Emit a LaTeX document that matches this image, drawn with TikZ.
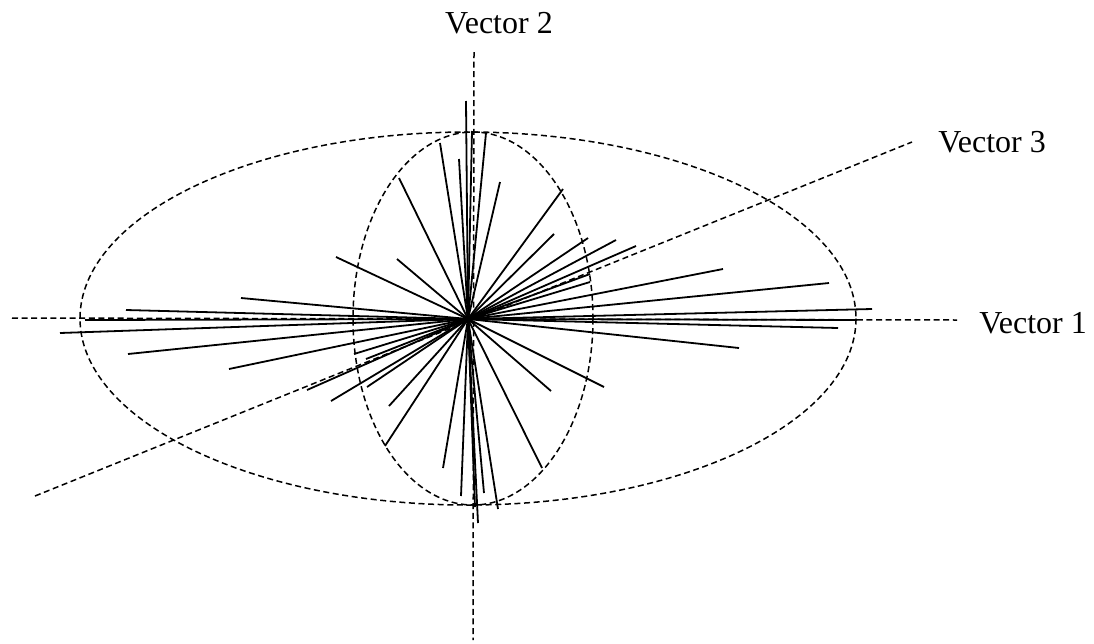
\documentclass[tikz,border=0pt]{standalone}
\usepackage{fontspec}
\setmainfont{Liberation Serif}
\begin{document}
\begin{tikzpicture}[x=1pt,y=-1pt,
  axisline/.style={line width=1.5pt, dash pattern=on 6pt off 3.6pt},
  ray/.style={line width=1.8pt, line cap=butt},
  label/.style={font=\fontsize{32}{36}\selectfont, anchor=base, inner sep=0pt}]
\useasboundingbox (0,0) rectangle (1094,643);
\coordinate (O) at (468,319);
% labels
\node[label] (v1) at (1033,333) {Vector 1};
\node[label] (v2) at (499,33) {Vector 2};
\node[label] (v3) at (992,152) {Vector 3};
% axes
\coordinate (a1s) at (12,318);  \coordinate (a1e) at (957,320);
\coordinate (a2s) at (474,52);  \coordinate (a2e) at (473,640);
\coordinate (a3s) at (35,496);  \coordinate (a3e) at (912,142);
\draw[axisline] (a1s) -- (a1e);
\draw[axisline] (a2s) -- (a2e);
\draw[axisline] (a3s) -- (a3e);
% ellipses
\draw[axisline] (468,318.5) ellipse [x radius=388, y radius=186.5];
\draw[axisline] (473,318.5) ellipse [x radius=120, y radius=186.5];
% rays
\foreach \px/\py in {
  126/310, 241/298, 336/257, 397/259, 399/178, 440/143, 459/159, 466/101, 85/320,
  472/131, 486/133, 500/182, 563/189, 554/234, 588/238, 616/240, 636/246,
  590/274, 590/282, 723/269, 829/283, 872/309, 857/320, 838/328, 739/348,
  551/391, 604/387, 542/468, 498/509, 484/493, 478/523, 475/507,
  443/468, 461/496, 385/446, 389/406, 367/387, 331/401, 307/390,
  366/359, 354/354, 229/369, 128/354, 60/333}
  \draw[ray] (O) -- (\px,\py);
\end{tikzpicture}
\end{document}
